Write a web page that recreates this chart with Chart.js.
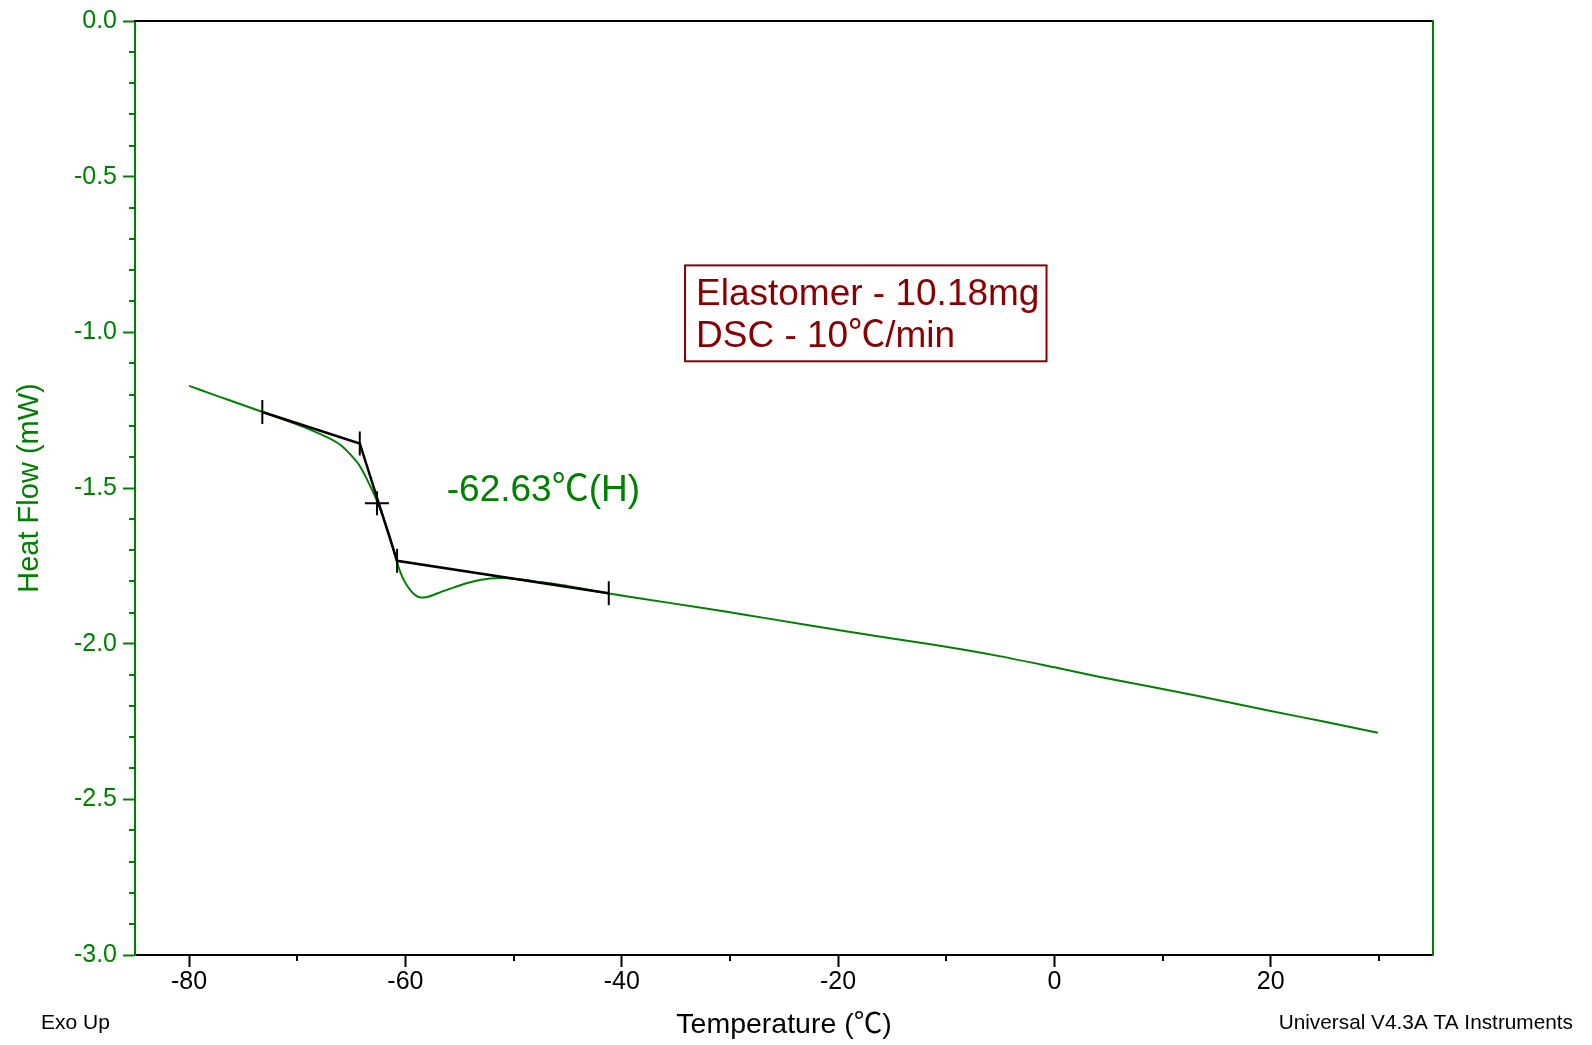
<!DOCTYPE html>
<html>
<head>
<meta charset="utf-8">
<script src="https://cdn.jsdelivr.net/npm/chart.js@4/dist/chart.umd.min.js"></script>
<style>
  html, body { margin: 0; padding: 0; background: #fff; }
  #wrap { width: 1592px; height: 1045px; }
</style>
</head>
<body>
<div id="wrap"><canvas id="dscChart" width="1592" height="1045"></canvas></div>
<script>
// 온도 (℃) / 열류 (mW) 측정값 - 그림에서 읽은 값
var temperature = [-80.0, -78.0, -76.2, -73.2, -71.0, -69.5, -67.3, -66.0, -65.1, -64.3, -63.6, -62.6,
  -61.5, -60.8, -60.3, -59.9, -59.3, -58.7, -58.0, -57.0, -55.0, -53.0, -51.3, -49.5, -48.0, -44.8,
  -41.2, -35.6, -30.0, -26.7, -19.0, -11.3, -5.1, 0.0, 4.1, 13.3, 20.0, 25.0, 29.9];
var heatFlow = [-1.172, -1.197, -1.219, -1.256, -1.283, -1.303, -1.336, -1.362, -1.392, -1.425, -1.469, -1.544,
  -1.650, -1.736, -1.785, -1.811, -1.838, -1.851, -1.850, -1.838, -1.813, -1.795, -1.789, -1.793, -1.800, -1.816,
  -1.839, -1.869, -1.899, -1.918, -1.962, -2.003, -2.040, -2.076, -2.106, -2.168, -2.216, -2.251, -2.286];

// 유리전이 분석용 접선 (onset / midpoint / end)
var tangentTemp = [-73.23, -64.22, -60.77, -41.2];
var tangentFlow = [-1.256, -1.357, -1.734, -1.838];
var midTemp = [-62.63];
var midFlow = [-1.549];

// 눈금
var xMajorTicks = [-80, -60, -40, -20, 0, 20];
var xMinorTicks = [-70, -50, -30, -10, 10, 30];
var yMajorTicks = [0, -0.5, -1.0, -1.5, -2.0, -2.5, -3.0];
var yMinorTicks = [-0.1, -0.2, -0.3, -0.4, -0.6, -0.7, -0.8, -0.9, -1.1, -1.2, -1.3, -1.4,
  -1.6, -1.7, -1.8, -1.9, -2.1, -2.2, -2.3, -2.4, -2.6, -2.7, -2.8, -2.9];

var tgLabel = "-62.63℃(H)";
var sampleLines = ["Elastomer - 10.18mg", "DSC - 10℃/min"];

var GREEN = "#008000";
var DARKRED = "#880000";
var FONT = "'Liberation Sans', Arial, 'Noto Sans CJK JP', sans-serif";
var CJK = "'Noto Sans CJK JP', sans-serif";

Chart.defaults.font.family = FONT;

function toPts(xs, ys) {
  return xs.map(function (x, i) { return { x: x, y: ys[i] }; });
}

// ℃ 기호만 CJK 글꼴로 (원본처럼 넓은 기호)
function drawMixed(ctx, text, x, y, size) {
  var parts = text.split("℃");
  var cx = x;
  parts.forEach(function (p, i) {
    ctx.font = size + "px " + FONT;
    ctx.fillText(p, cx, y);
    cx += ctx.measureText(p).width;
    if (i < parts.length - 1) {
      ctx.font = size + "px " + CJK;
      ctx.fillText("℃", cx, y);
      cx += ctx.measureText("℃").width;
    }
  });
}

// 보조 눈금, 주석, 하단 문구 그리기
var extrasPlugin = {
  id: "extras",
  afterDraw: function (chart) {
    var ctx = chart.ctx;
    var xs = chart.scales.x;
    var ys = chart.scales.y;
    var area = chart.chartArea;
    ctx.save();

    // 보조 눈금
    ctx.lineWidth = 2;
    ctx.strokeStyle = GREEN;
    yMinorTicks.forEach(function (v) {
      var py = Math.round(ys.getPixelForValue(v));
      ctx.beginPath();
      ctx.moveTo(area.left - 6, py);
      ctx.lineTo(area.left, py);
      ctx.stroke();
    });
    ctx.strokeStyle = "#000";
    xMinorTicks.forEach(function (v) {
      var px = Math.round(xs.getPixelForValue(v));
      ctx.beginPath();
      ctx.moveTo(px, area.bottom);
      ctx.lineTo(px, area.bottom + 6);
      ctx.stroke();
    });

    // Tg 라벨
    ctx.fillStyle = GREEN;
    ctx.textBaseline = "alphabetic";
    ctx.textAlign = "left";
    drawMixed(ctx, tgLabel, xs.getPixelForValue(-56.18), ys.getPixelForValue(-1.543), 37);

    // 시료 정보 박스
    var bx1 = xs.getPixelForValue(-34.15), bx2 = xs.getPixelForValue(-0.73);
    var by1 = ys.getPixelForValue(-0.785), by2 = ys.getPixelForValue(-1.093);
    ctx.strokeStyle = DARKRED;
    ctx.lineWidth = 2;
    ctx.strokeRect(bx1, by1, bx2 - bx1, by2 - by1);
    ctx.fillStyle = DARKRED;
    drawMixed(ctx, sampleLines[0], bx1 + 11, ys.getPixelForValue(-0.912), 37);
    drawMixed(ctx, sampleLines[1], bx1 + 11, ys.getPixelForValue(-1.047), 37);

    // 하단 문구
    ctx.fillStyle = "#000";
    ctx.font = "21px " + FONT;
    ctx.fillText("Exo Up", 41, 1029);
    ctx.textAlign = "right";
    ctx.font = "20.8px " + FONT;
    ctx.fillText("Universal V4.3A TA Instruments", 1573, 1029);
    ctx.restore();
  }
};

var ctx = document.getElementById("dscChart").getContext("2d");
var dscChart = new Chart(ctx, {
  type: "scatter",
  data: {
    datasets: [
      {
        label: "tangent",
        data: toPts(tangentTemp, tangentFlow),
        showLine: true,
        borderColor: "#000",
        borderWidth: 2.5,
        pointStyle: "line",
        rotation: 90,
        pointRadius: 12,
        pointBorderWidth: 2,
        pointBorderColor: "#000",
        order: 0,
      },
      {
        label: "midpoint",
        data: toPts(midTemp, midFlow),
        showLine: false,
        pointStyle: "cross",
        pointRadius: 12,
        pointBorderWidth: 2,
        pointBorderColor: "#000",
        order: 1,
      },
      {
        label: "heat flow",
        data: toPts(temperature, heatFlow),
        showLine: true,
        borderColor: GREEN,
        borderWidth: 2,
        pointRadius: 0,
        tension: 0.25,
        order: 2,
      },
    ],
  },
  options: {
    responsive: false,
    animation: false,
    events: [],
    layout: { padding: { left: 0, top: 18, right: 159, bottom: 0 } },
    plugins: { legend: { display: false }, tooltip: { enabled: false } },
    scales: {
      x: {
        type: "linear",
        position: "bottom",
        min: -85,
        max: 35,
        afterBuildTicks: function (scale) {
          scale.ticks = xMajorTicks.map(function (v) { return { value: v }; });
        },
        afterFit: function (scale) { scale.height = 90; },
        grid: { drawOnChartArea: false, tickLength: 12, tickColor: "#000", tickWidth: 2 },
        border: { color: "#000", width: 2 },
        ticks: { color: "#000", font: { size: 25 }, padding: 0, maxRotation: 0 },
        title: {
          display: true,
          text: "Temperature (℃)",
          color: "#000",
          font: { size: 28.5 },
          padding: { top: 0, bottom: 3 },
        },
      },
      y: {
        type: "linear",
        position: "left",
        min: -3,
        max: 0,
        afterBuildTicks: function (scale) {
          scale.ticks = yMajorTicks.map(function (v) { return { value: v }; });
        },
        afterFit: function (scale) { scale.width = 135; },
        grid: { drawOnChartArea: false, tickLength: 12, tickColor: GREEN, tickWidth: 2 },
        border: { color: GREEN, width: 2 },
        ticks: {
          color: GREEN,
          font: { size: 25 },
          padding: 6,
          callback: function (v) { return v.toFixed(1); },
        },
        title: {
          display: true,
          text: "Heat Flow (mW)",
          color: GREEN,
          font: { size: 29 },
          padding: { top: 13, bottom: 0 },
        },
      },
      xTop: {
        type: "linear",
        position: "top",
        min: -85,
        max: 35,
        afterFit: function (scale) { scale.height = 0; },
        grid: { display: false, drawTicks: false },
        border: { color: "#000", width: 2 },
        ticks: { display: false },
      },
      yRight: {
        type: "linear",
        position: "right",
        min: -3,
        max: 0,
        afterFit: function (scale) { scale.width = 0; },
        grid: { display: false, drawTicks: false },
        border: { color: GREEN, width: 2 },
        ticks: { display: false },
      },
    },
  },
  plugins: [extrasPlugin],
});
</script>
</body>
</html>
